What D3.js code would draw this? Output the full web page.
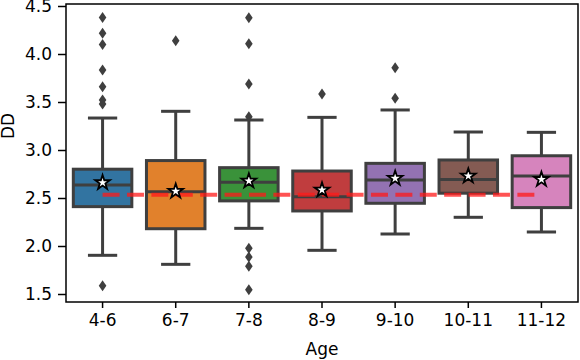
<!DOCTYPE html>
<html><head><meta charset="utf-8">
<script src="https://cdn.jsdelivr.net/npm/d3@7"></script>
<style>body{margin:0;background:#fff}svg{display:block}text{font-family:"DejaVu Sans",sans-serif;fill:#000}</style>
</head><body><svg id="c" width="580" height="360"></svg>
<script>
const categories = ["4-6","6-7","7-8","8-9","9-10","10-11","11-12"];
const q1      = [2.41, 2.18, 2.47, 2.365, 2.445, 2.55, 2.40];
const medians = [2.635, 2.566, 2.663, 2.514, 2.688, 2.694, 2.729];
const q3      = [2.80, 2.89, 2.816, 2.781, 2.861, 2.896, 2.94];
const whiskLo = [1.903, 1.809, 2.184, 1.955, 2.125, 2.299, 2.146];
const whiskHi = [3.333, 3.403, 3.3125, 3.34, 3.417, 3.1875, 3.184];
const means   = [2.66, 2.57, 2.677, 2.583, 2.705, 2.729, 2.694];
const outliers = [
  [4.38, 4.216, 4.10, 3.833, 3.66, 3.52, 3.48, 1.586],
  [4.139],
  [4.378, 4.107, 3.687, 3.347, 1.976, 1.885, 1.79, 1.545],
  [3.583],
  [3.857, 3.538],
  [],
  []
];
const refValue = 2.534;
const colors = ["#3274a1","#e1812c","#3a923a","#c03d3e","#9372b2","#845b53","#d684bd"];
const yTicks = [1.5, 2.0, 2.5, 3.0, 3.5, 4.0, 4.5];

const svg = d3.select("#c");
const L = 66, R = 578, T = 4, B = 302;
const x = d3.scaleBand().domain(categories).range([L, R]).paddingInner(0).paddingOuter(0);
const y = d3.scaleLinear().domain([1.5 - 8/96, 4.5 + 2/96]).range([B, T]);
const bw = x.bandwidth() * 0.8;
const edge = "#3f3f3f";

// boxes
const g = svg.append("g");
categories.forEach((c, i) => {
  const cx = x(c) + x.bandwidth() / 2;
  g.append("line").attr("x1", cx).attr("x2", cx).attr("y1", y(q3[i])).attr("y2", y(whiskHi[i]))
    .attr("stroke", edge).attr("stroke-width", 3);
  g.append("line").attr("x1", cx).attr("x2", cx).attr("y1", y(q1[i])).attr("y2", y(whiskLo[i]))
    .attr("stroke", edge).attr("stroke-width", 3);
  [whiskHi[i], whiskLo[i]].forEach(v => {
    g.append("line").attr("x1", cx - bw / 4).attr("x2", cx + bw / 4).attr("y1", y(v)).attr("y2", y(v))
      .attr("stroke", edge).attr("stroke-width", 3);
  });
  g.append("rect").attr("x", cx - bw / 2).attr("width", bw)
    .attr("y", y(q3[i])).attr("height", y(q1[i]) - y(q3[i]))
    .attr("fill", colors[i]).attr("stroke", edge).attr("stroke-width", 3);
  g.append("line").attr("x1", cx - bw / 2).attr("x2", cx + bw / 2).attr("y1", y(medians[i])).attr("y2", y(medians[i]))
    .attr("stroke", edge).attr("stroke-width", 3);
  outliers[i].forEach(v => {
    g.append("path").attr("d", "M0,-5.5L3.8,0L0,5.5L-3.8,0Z")
      .attr("transform", `translate(${cx},${y(v)})`).attr("fill", edge);
  });
});

// reference dashed line
const c0 = x(categories[0]) + x.bandwidth() / 2;
const c1 = x(categories[categories.length - 1]) + x.bandwidth() / 2;
svg.append("line").attr("x1", c0).attr("x2", c1).attr("y1", y(refValue)).attr("y2", y(refValue))
  .attr("stroke", "#ff1a1a").attr("stroke-opacity", 0.75).attr("stroke-width", 4).attr("stroke-dasharray", "17,7.4");

// mean stars
const star = d3.symbol().type(d3.symbolStar).size(66);
categories.forEach((c, i) => {
  const cx = x(c) + x.bandwidth() / 2;
  svg.append("path").attr("d", star()).attr("transform", `translate(${cx},${y(means[i])})`)
    .attr("fill", "#fff").attr("stroke", "#000").attr("stroke-width", 1.8).attr("stroke-linejoin", "miter");
});

// frame
svg.append("rect").attr("x", L).attr("y", T).attr("width", R - L).attr("height", B - T)
  .attr("fill", "none").attr("stroke", "#000").attr("stroke-width", 1.5);

// axes
const xa = svg.append("g").attr("transform", `translate(0,${B})`)
  .call(d3.axisBottom(x).tickSize(6).tickPadding(6));
const ya = svg.append("g").attr("transform", `translate(${L},0)`)
  .call(d3.axisLeft(y).tickValues(yTicks).tickFormat(d3.format(".1f")).tickSize(8).tickPadding(6));
[xa, ya].forEach(a => {
  a.select(".domain").remove();
  a.selectAll(".tick line").attr("stroke", "#000").attr("stroke-width", 1.5);
  a.selectAll(".tick text").attr("font-size", 17).attr("fill", "#000").style("font-family", '"DejaVu Sans", sans-serif');
});

svg.append("text").attr("x", (L + R) / 2).attr("y", 355).attr("text-anchor", "middle")
  .attr("font-size", 17).text("Age");
svg.append("text").attr("transform", "translate(14,126) rotate(-90)").attr("text-anchor", "middle")
  .attr("font-size", 17).text("DD");
</script></body></html>
